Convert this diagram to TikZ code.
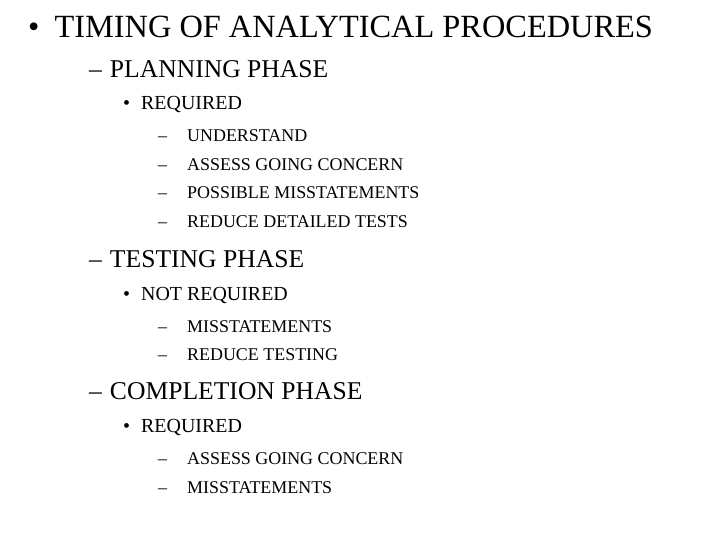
\documentclass[tikz,border=0pt]{standalone}
\usepackage{fontspec}
\setmainfont{Liberation Serif}
\begin{document}
\begin{tikzpicture}[x=1bp,y=-1bp,
  t/.style={anchor=west,inner sep=0pt},
  l1/.style={t,font=\fontsize{32.5}{34}\selectfont},
  l2/.style={t,font=\fontsize{25.7}{27}\selectfont},
  l3/.style={t,font=\fontsize{20}{22}\selectfont},
  l4/.style={t,font=\fontsize{18}{20}\selectfont}]
\useasboundingbox (0,0) rectangle (720,540);
\node[l1] (a) at (28,27) {•\hspace{15bp}TIMING OF ANALYTICAL PROCEDURES};
\node[l2] (b) at (89,69) {–\hspace{8bp}PLANNING PHASE};
\node[l3] (c) at (123,105) {•\hspace{11bp}REQUIRED};
\node[l4] (d1) at (158,136) {–\hspace{20bp}UNDERSTAND};
\node[l4] (d2) at (158,165) {–\hspace{20bp}ASSESS GOING CONCERN};
\node[l4] (d3) at (158,193) {–\hspace{20bp}POSSIBLE MISSTATEMENTS};
\node[l4] (d4) at (158,222) {–\hspace{20bp}REDUCE DETAILED TESTS};
\node[l2] (e) at (89,259) {–\hspace{8bp}TESTING PHASE};
\node[l3] (f) at (123,296) {•\hspace{11bp}NOT REQUIRED};
\node[l4] (g1) at (158,327) {–\hspace{20bp}MISSTATEMENTS};
\node[l4] (g2) at (158,355) {–\hspace{20bp}REDUCE TESTING};
\node[l2] (h) at (89,391) {–\hspace{8bp}COMPLETION PHASE};
\node[l3] (i) at (123,428) {•\hspace{11bp}REQUIRED};
\node[l4] (j1) at (158,459) {–\hspace{20bp}ASSESS GOING CONCERN};
\node[l4] (j2) at (158,488) {–\hspace{20bp}MISSTATEMENTS};
\end{tikzpicture}
\end{document}
